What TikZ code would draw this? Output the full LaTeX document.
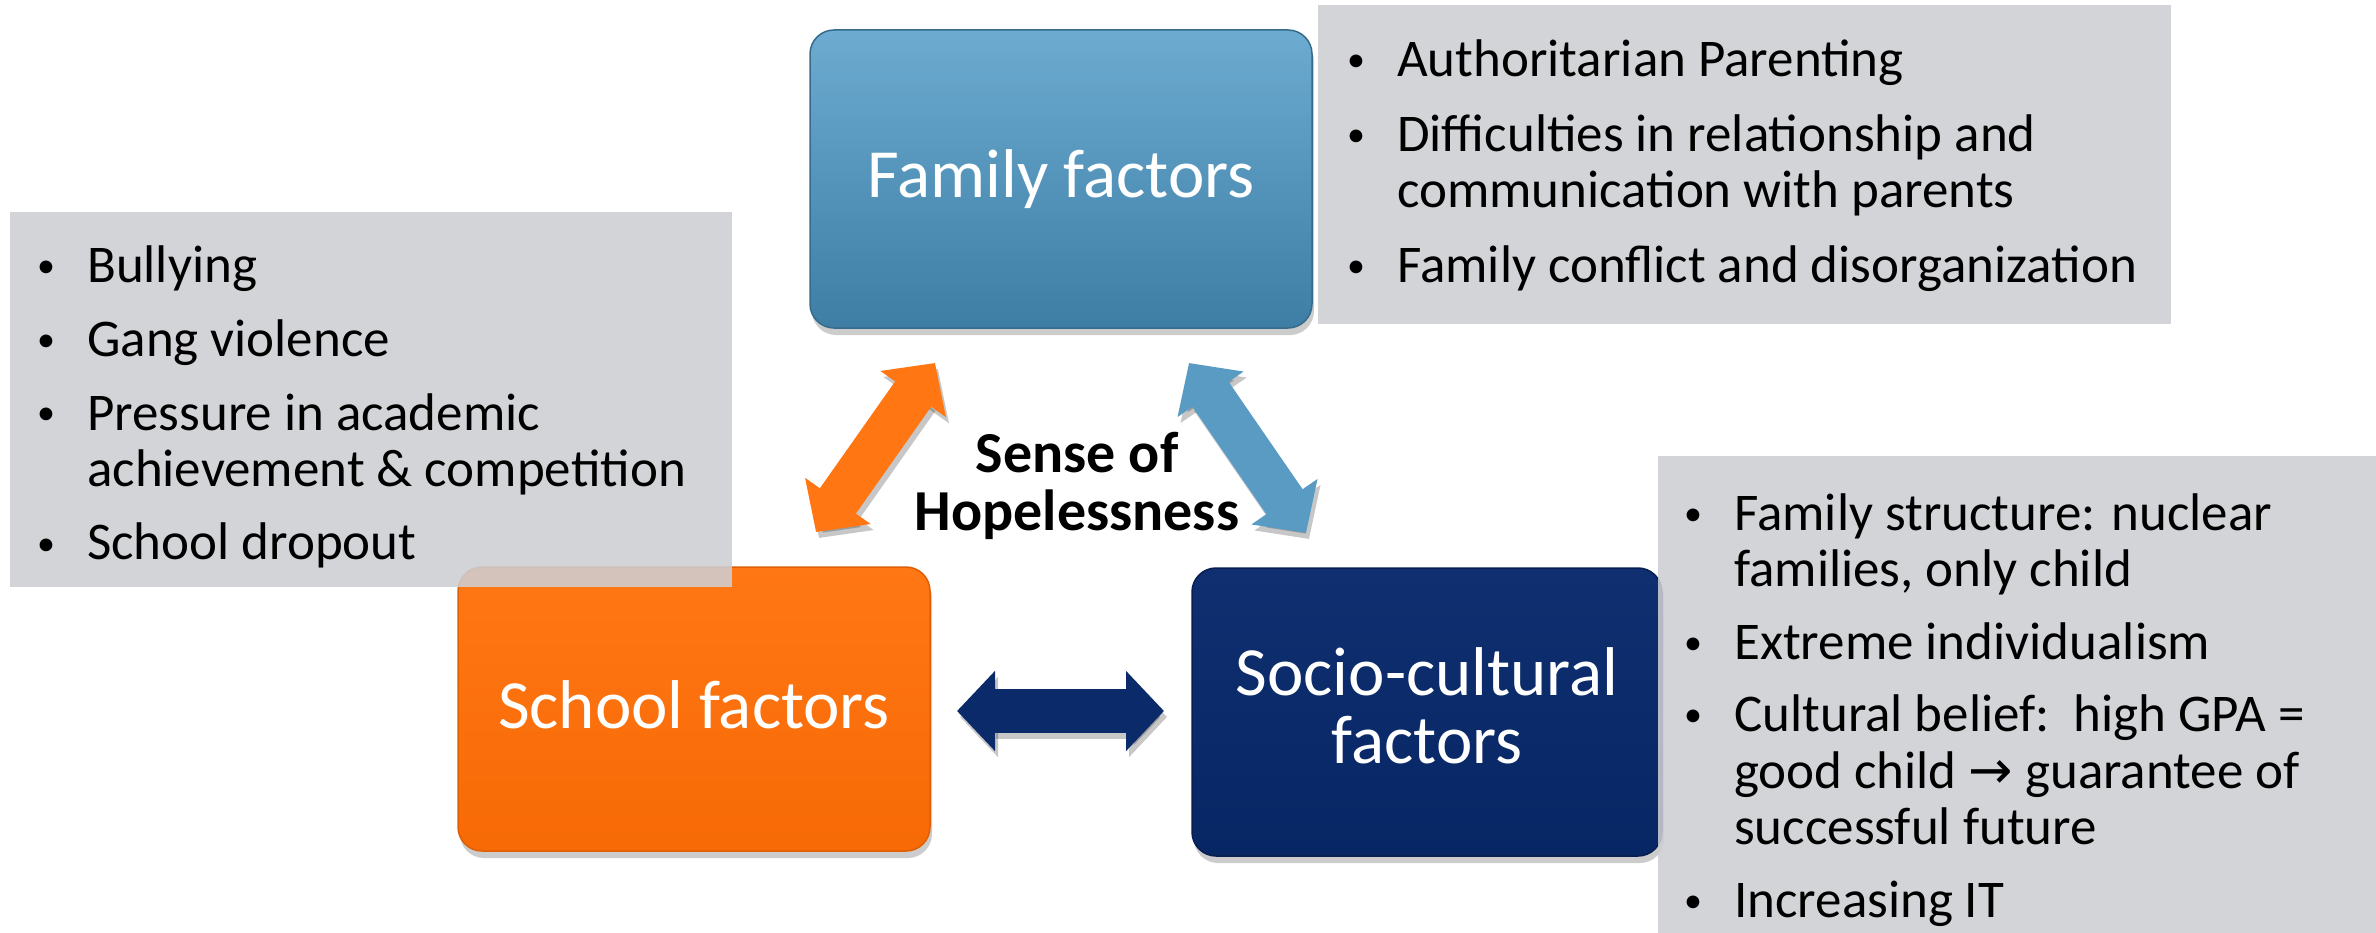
\documentclass[tikz,border=0pt]{standalone}
\usepackage{fontspec}
\setmainfont{Carlito}
\newfontfamily\symf{DejaVu Sans}
\usetikzlibrary{arrows.meta,shadows}
\definecolor{famA}{HTML}{6DABD1}
\definecolor{famB}{HTML}{3E7EA4}
\definecolor{schA}{HTML}{FF7714}
\definecolor{schB}{HTML}{F76A06}
\definecolor{socA}{HTML}{0F2F70}
\definecolor{socB}{HTML}{072664}
\definecolor{panel}{HTML}{CDCED3}
\definecolor{orgA}{HTML}{FF7612}
\definecolor{bluA}{HTML}{5A9BC4}
\definecolor{navyA}{HTML}{0B2A69}
\newcommand\blt{\hangindent=50pt\hangafter=1\noindent\makebox[50pt][l]{\raisebox{5pt}{\fontsize{36}{36}\selectfont\textbullet}}}
\newcommand\nl{\hfil\break}
\tikzset{
  factorbox/.style={rounded corners=24pt, inner sep=0pt, line width=1.5pt,
    drop shadow={shadow xshift=2pt, shadow yshift=-7pt, opacity=0.4}},
  panelbox/.style={fill=panel, fill opacity=0.88, inner sep=0pt, draw=none},
  titletext/.style={text=white, font=\fontsize{69}{68}\selectfont, anchor=base, inner sep=0pt},
  listtext/.style={anchor=base west, inner sep=0pt, font=\fontsize{53}{56.5}\selectfont},
  fat/.style={line width=44pt, {Triangle[width=78pt,length=38pt]}-{Triangle[width=78pt,length=38pt]}},
  fatshadow/.style={fat, draw=black, opacity=0.22, transform canvas={shift={(3pt,-6pt)}}}
}
\begin{document}
\begin{tikzpicture}[x=1pt,y=-1pt]
\useasboundingbox (0,0) rectangle (2376,933);
% factor boxes
\node[factorbox, top color=famA, bottom color=famB, draw=famB!85!black,
  minimum width=502pt, minimum height=298pt] (fam) at (1061,179) {};
\node[factorbox, top color=schA, bottom color=schB, draw=schB!90!black,
  minimum width=472pt, minimum height=284pt] (sch) at (694,709) {};
\node[factorbox, top color=socA, bottom color=socB, draw=socB!80!black,
  minimum width=470pt, minimum height=288pt] (soc) at (1427,712) {};
\node[titletext] (famlbl) at (1061,198) {Family factors};
\node[titletext] (schlbl) at (694,728) {School factors};
\node[titletext] (soclbl) at (1427,695) {\parbox[t]{460pt}{\centering\baselineskip=68pt Socio-cultural\\factors}};
% panels
\node[panelbox, minimum width=853pt, minimum height=319pt] (fampanel) at (1744.5,164.5) {};
\node[panelbox, minimum width=722pt, minimum height=375pt] (schpanel) at (371,399.5) {};
\node[panelbox, minimum width=718pt, minimum height=477pt] (socpanel) at (2017,694.5) {};
\node[listtext] (famlist) at (1347,77) {\parbox[t]{820pt}{\setlength\parskip{18pt}\rightskip=0pt plus 1fil%
\blt Authoritarian Parenting\par
\blt Difficulties in relationship and\nl communication with parents\par
\blt Family conflict and disorganization\par}};
\node[listtext] (schlist) at (37,283) {\parbox[t]{690pt}{\setlength\parskip{17pt}\rightskip=0pt plus 1fil%
\blt Bullying\par
\blt Gang violence\par
\blt Pressure in academic\nl achievement \& competition\par
\blt School dropout\par}};
\node[listtext] (soclist) at (1684,530) {\parbox[t]{690pt}{\setlength\parskip{16pt}\rightskip=0pt plus 1fil%
\blt Family structure: nuclear\nl families, only child\par
\blt Extreme individualism\par
\blt Cultural belief:\ \ high GPA =\nl good child {\symf →} guarantee of\nl successful future\par
\blt Increasing IT\par}};
% centre label
\node[anchor=base, inner sep=0pt, font=\fontsize{58}{58}\selectfont\bfseries] (hope) at (1077,472)
  {\parbox[t]{460pt}{\centering Sense of\\Hopelessness}};
% connectors
\coordinate (oA) at (816,532); \coordinate (oB) at (935,363);
\coordinate (bA) at (1189,363); \coordinate (bB) at (1306,533);
\coordinate (hA) at (957,711); \coordinate (hB) at (1164,711);
\draw[fatshadow] (oA) -- (oB);
\draw[fatshadow] (bA) -- (bB);
\draw[fatshadow] (hA) -- (hB);
\draw[fat, draw=orgA] (oA) -- (oB);
\draw[fat, draw=bluA] (bA) -- (bB);
\draw[fat, draw=navyA] (hA) -- (hB);
\end{tikzpicture}
\end{document}
